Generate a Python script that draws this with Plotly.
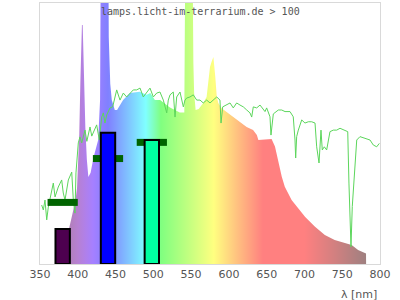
import plotly.graph_objects as go

# ---- data ----
x_ticks = [350, 400, 450, 500, 550, 600, 650, 700, 750, 800]

lamp_nm = [376, 380, 384, 388, 392, 397, 399, 401, 402, 403.5, 404.5, 405.5, 406.5, 407.5,
           408.5, 410, 412, 414, 417, 421, 427, 429.5, 431, 440, 441, 443, 445, 449, 452,
           460, 469, 482, 491, 496, 502, 509, 522, 535, 541, 542, 543, 551, 552, 553, 554,
           556, 560, 566, 570.5, 572, 575, 577, 579.5, 582, 584, 586, 590, 597, 606, 615,
           623.5, 632, 637, 639, 648, 656.5, 661, 665.5, 670, 674, 683, 692, 701, 714, 727,
           740, 754, 762.5, 771, 780, 781.5, 781.6]
lamp_val = [0, 4, 9, 13, 18, 24.5, 29, 40, 50, 70.5, 84, 91.6, 91.6, 82,
            64, 52.5, 40, 33.3, 35, 41, 47.5, 62.8, 150, 150, 87, 69, 62.8, 59, 59,
            62.8, 65.5, 66, 64.8, 65.5, 62.8, 62.8, 60, 58, 58, 71.6, 150, 150, 88.5, 77, 65.5,
            59, 59.4, 61.7, 64, 67.8, 75.5, 77.4, 79.3, 71.6, 64, 61.7, 59.8, 58.2, 56.3, 54.4,
            52.5, 51.3, 49.4, 47.5, 47.8, 47.9, 45, 38.7, 33.4, 29.6, 24.5, 21.3, 18, 14.3, 11.1,
            9.2, 7.9, 7.3, 5.4, 4.1, 4.0, 0]

sun_nm = [352.2, 354.4, 356.6, 358.9, 361.0, 365.5, 367.6, 369.9, 374.2, 378.7, 380.8, 383.1,
          387.5, 392.0, 394.1, 396.3, 397.6, 400.7, 402.9, 405.2, 409.6, 412.0, 416.2, 418.5,
          420.5, 425.0, 428.5, 431.7, 433.8, 436.0, 438.3, 442.6, 446.2, 449.3, 451.5, 455.9,
          460.3, 464.7, 469.1, 473.5, 478.0, 482.4, 486.7, 491.2, 495.6, 500.0, 504.5, 508.8,
          513.2, 517.7, 519.8, 522.1, 526.4, 528.7, 530.9, 535.3, 539.7, 541.9, 544.2, 548.5,
          552.9, 557.4, 561.8, 566.1, 570.6, 575.0, 579.4, 583.9, 588.2, 589.6, 591.8, 597.1,
          601.5, 605.8, 610.3, 614.7, 619.1, 623.6, 627.9, 630.2, 632.3, 636.8, 641.2, 647.8,
          650.0, 654.4, 655.7, 658.8, 665.4, 669.9, 674.3, 680.9, 685.2, 687.5, 688.4, 689.7,
          691.9, 696.4, 700.7, 705.1, 709.6, 714.0, 716.2, 719.3, 721.9, 723.6, 726.3, 729.4,
          731.6, 733.8, 738.2, 742.7, 747.1, 753.7, 757.3, 758.9, 760.7, 761.6, 763.3, 765.2,
          766.9, 769.2, 773.5, 780.2, 786.8, 791.1, 795.6, 799.1]
sun_val = [22.6, 20.7, 24.5, 16.9, 21.8, 28.4, 31.0, 25.7, 29.5, 32.2, 27.2, 24.5,
           32.2, 35.2, 24.5, 19.5, 34.9, 46.4, 48.7, 46.4, 51.3, 47.0, 52.5, 49.0,
           50.2, 53.3, 47.5, 56.3, 57.9, 54.0, 57.1, 59.8, 60.2, 64.8, 66.7, 62.8,
           65.5, 64.0, 65.5, 66.7, 66.7, 67.4, 64.0, 65.9, 67.4, 64.0, 65.5, 65.9,
           62.8, 57.9, 62.8, 64.8, 65.9, 56.3, 64.0, 65.9, 60.2, 62.8, 63.6, 64.0,
           64.8, 62.8, 62.8, 61.7, 62.8, 61.7, 62.8, 64.0, 62.8, 54.0, 60.2, 60.9,
           61.7, 59.8, 61.7, 60.9, 60.2, 59.0, 57.9, 56.3, 60.2, 59.8, 60.9, 58.4,
           59.8, 56.4, 49.4, 57.5, 59.0, 59.0, 58.4, 58.4, 56.4, 47.5, 40.6, 48.8,
           51.3, 55.2, 54.0, 54.5, 54.5, 54.0, 44.9, 38.7, 51.3, 43.7, 44.9, 43.7,
           47.5, 50.7, 51.3, 51.3, 52.0, 51.3, 50.7, 31.0, 9.2, 6.6, 22.0, 29.6,
           37.3, 47.5, 48.8, 48.2, 47.5, 45.6, 44.9, 46.2]

bar_nm = [380, 440, 498]
bar_val = [13.4, 50.3, 47.5]
bar_colors = ["#4d004f", "#0000ff", "#00ffa0"]
target_val = [23.6, 40.4, 46.6]

# wavelength colour scale (style)
wl_stops = [380, 390, 400, 410, 420, 440, 465, 490, 510, 545, 580, 612, 645, 700, 740, 782]
wl_colors = ["#a680a6", "#b280bc", "#b780d2", "#b080e9", "#a680ff", "#8080ff", "#80bfff",
             "#80ffff", "#80ff80", "#bfff80", "#ffff80", "#ffbf80", "#ff8080", "#ff8080",
             "#d28080", "#9e8080"]
lo, hi = wl_stops[0], wl_stops[-1]
cscale = [[(w - lo) / (hi - lo), c] for w, c in zip(wl_stops, wl_colors)]

fig = go.Figure()

fig.add_trace(go.Scatter(
    x=lamp_nm, y=lamp_val, mode="lines", line=dict(width=0, color="rgba(0,0,0,0)"),
    fill="tozeroy",
    fillgradient=dict(type="horizontal", colorscale=cscale, start=lo, stop=hi),
    hoverinfo="skip", showlegend=False))

fig.add_trace(go.Scatter(
    x=sun_nm, y=sun_val, mode="lines", line=dict(width=1, color="#5cd65c"),
    showlegend=False))

thick = 2.68
fig.add_trace(go.Bar(
    x=bar_nm, y=[thick] * len(target_val), base=[v - thick / 2 for v in target_val],
    width=40, marker=dict(color="#006400", line=dict(width=0)),
    xaxis="x2", yaxis="y2", showlegend=False))

fig.add_trace(go.Bar(
    x=bar_nm, y=bar_val, width=19,
    marker=dict(color=bar_colors, line=dict(color="#000000", width=2)),
    xaxis="x2", yaxis="y2", showlegend=False))

axis_common = dict(showgrid=False, zeroline=False, showline=True, mirror=True,
                   linecolor="#d9d9d9", linewidth=1)

fig.update_layout(
    width=400, height=300,
    margin=dict(l=40, r=20, t=3, b=36),
    paper_bgcolor="white", plot_bgcolor="white",
    barmode="overlay",
    xaxis=dict(range=[350, 800], tickvals=x_ticks, ticks="",
               tickfont=dict(family="DejaVu Sans", size=11, color="#555555"),
               **axis_common),
    yaxis=dict(range=[0, 100], showticklabels=False, ticks="", **axis_common),
    xaxis2=dict(range=[350, 800], overlaying="x", visible=False),
    yaxis2=dict(range=[0, 100], overlaying="y", visible=False),
    annotations=[
        dict(text="lamps.licht-im-terrarium.de > 100", x=(200.5 - 40) / 340, y=(264 - 11) / 261,
             xref="paper", yref="paper", xanchor="center", yanchor="middle", showarrow=False,
             font=dict(family="DejaVu Sans Mono", size=10, color="#555555")),
        dict(text="λ [nm]", x=(379 - 40) / 340, y=(264 - 294) / 261,
             xref="paper", yref="paper", xanchor="right", yanchor="middle", showarrow=False,
             font=dict(family="DejaVu Sans", size=11, color="#555555")),
    ],
)

fig.write_html("out.html")
